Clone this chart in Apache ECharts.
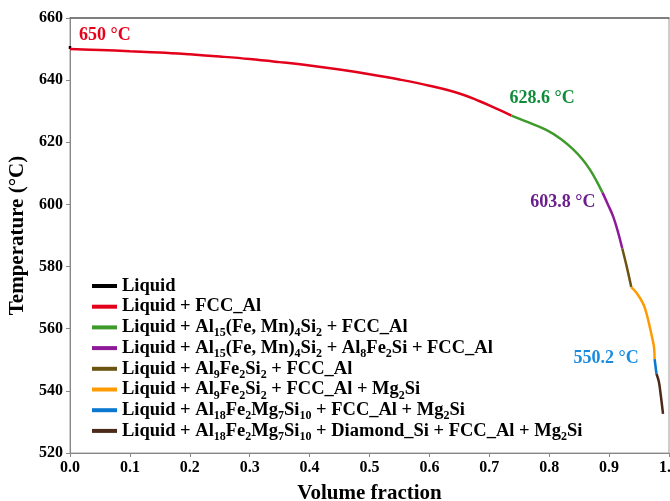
<!DOCTYPE html>
<html><head><meta charset="utf-8">
<script src="https://cdn.jsdelivr.net/npm/echarts@6/dist/echarts.min.js"></script>
<style>html,body{margin:0;padding:0;background:#fff}#c{width:670px;height:501px}</style>
</head><body><div id="c"></div>
<script>
// Series data: [volume fraction, temperature °C]
const liquid = [[0, 651.0], [0, 650.0]];
const fccAl = [[0, 650.0], [0.05, 649.7], [0.1, 649.3], [0.15, 648.9], [0.2, 648.3], [0.25, 647.6], [0.3, 646.8], [0.35, 645.8], [0.4, 644.7], [0.45, 643.4], [0.5, 641.9], [0.55, 640.2], [0.6, 638.2], [0.65, 635.7], [0.684, 633.2], [0.71, 631.0], [0.737, 628.6]];
const al15 = [[0.737, 628.6], [0.76, 626.8], [0.795, 624.0], [0.82, 621.0], [0.84, 617.7], [0.855, 614.6], [0.868, 611.2], [0.88, 607.2], [0.889, 603.8]];
const al15al8 = [[0.889, 603.8], [0.898, 600.0], [0.907, 596.0], [0.915, 591.0], [0.922, 585.8]];
const al9 = [[0.922, 585.8], [0.93, 579.5], [0.937, 573.4]];
const al9mg = [[0.937, 573.4], [0.946, 571.5], [0.957, 568.0], [0.963, 564.5], [0.968, 560.5], [0.972, 557.0], [0.975, 554.0], [0.976, 550.2]];
const al18 = [[0.976, 550.2], [0.979, 545.5]];
const al18dia = [[0.979, 545.5], [0.983, 543.0], [0.986, 539.0], [0.990, 532.6]];

const seriesNames = [
  'Liquid',
  'Liquid + FCC_Al',
  'Liquid + Al{s|15}(Fe, Mn){s|4}Si{s|2} + FCC_Al',
  'Liquid + Al{s|15}(Fe, Mn){s|4}Si{s|2} + Al{s|8}Fe{s|2}Si + FCC_Al',
  'Liquid + Al{s|9}Fe{s|2}Si{s|2} + FCC_Al',
  'Liquid + Al{s|9}Fe{s|2}Si{s|2} + FCC_Al + Mg{s|2}Si',
  'Liquid + Al{s|18}Fe{s|2}Mg{s|7}Si{s|10} + FCC_Al + Mg{s|2}Si',
  'Liquid + Al{s|18}Fe{s|2}Mg{s|7}Si{s|10} + Diamond_Si + FCC_Al + Mg{s|2}Si'
];
const seriesData = [liquid, fccAl, al15, al15al8, al9, al9mg, al18, al18dia];
const colors = ['#000000', '#e3001b', '#3f9a2c', '#8e1a99', '#6b5411', '#ff9a00', '#0a78d0', '#4b2a1a'];

// Annotations: text, anchor point, colour
const annotations = [
  {text: '650 °C', at: [0, 650.0], color: '#e8001a', pos: [9, -14], align: 'left', series: 1},
  {text: '628.6 °C', at: [0.737, 628.6], color: '#0f8c3a', pos: [-2, -17], align: 'left', series: 2},
  {text: '603.8 °C', at: [0.889, 603.8], color: '#6b1f8c', pos: [-7, 10], align: 'right', series: 3},
  {text: '550.2 °C', at: [0.976, 550.2], color: '#1a8ce0', pos: [-16, -1], align: 'right', series: 7}
];

const FONT = '"Liberation Serif", "Times New Roman", serif';

const series = seriesData.map((d, i) => {
  const s = {
    name: seriesNames[i], type: 'line', data: d, symbol: 'none', smooth: 0.4,
    lineStyle: {width: 2.5, color: colors[i]}, itemStyle: {color: colors[i]}, z: 3
  };
  const ann = annotations.filter(a => a.series === i);
  if (ann.length) {
    s.markPoint = {
      symbol: 'circle', symbolSize: 0, animation: false,
      data: ann.map(a => ({
        coord: a.at,
        label: {show: true, formatter: a.text, position: a.pos, align: a.align, verticalAlign: 'middle',
          color: a.color, fontFamily: FONT, fontWeight: 'bold', fontSize: 18}
      }))
    };
  }
  return s;
});

const chart = echarts.init(document.getElementById('c'), null, {renderer: 'canvas'});
chart.setOption({
  animation: false,
  backgroundColor: '#fff',
  grid: {left: 70, right: 1, top: 18, bottom: 48, show: true, borderColor: '#9a9a9a', borderWidth: 1,
    containLabel: false, outerBoundsMode: 'none'},
  xAxis: [{
    type: 'value', min: 0, max: 1, interval: 0.1,
    name: 'Volume fraction', nameLocation: 'middle', nameGap: 30,
    nameTextStyle: {fontFamily: FONT, fontWeight: 'bold', fontSize: 21, color: '#000'},
    axisLine: {show: true, lineStyle: {color: '#888', width: 1}},
    axisTick: {show: true, inside: false, length: 4, lineStyle: {color: '#888'}},
    splitLine: {show: false},
    axisLabel: {margin: 7, fontFamily: FONT, fontWeight: 'bold', fontSize: 16, color: '#000',
      formatter: v => v.toFixed(1)}
  }, {
    type: 'value', min: 0, max: 1, position: 'top',
    axisLine: {show: true, lineStyle: {color: '#666', width: 1.5}},
    axisTick: {show: false}, axisLabel: {show: false}, splitLine: {show: false}
  }],
  yAxis: {
    type: 'value', min: 520, max: 660, interval: 20,
    name: 'Temperature (°C)', nameLocation: 'middle', nameGap: 40,
    nameTextStyle: {fontFamily: FONT, fontWeight: 'bold', fontSize: 21, color: '#000'},
    axisLine: {show: true, lineStyle: {color: '#888', width: 1}},
    axisTick: {show: true, inside: false, length: 4, lineStyle: {color: '#888'}},
    splitLine: {show: false},
    axisLabel: {margin: 7, fontFamily: FONT, fontWeight: 'bold', fontSize: 16, color: '#000'}
  },
  legend: {
    orient: 'vertical', left: 92, top: 274, itemWidth: 25, itemHeight: 4, itemGap: -3.3,
    icon: 'rect', padding: 0,
    data: seriesNames,
    textStyle: {fontFamily: FONT, fontWeight: 'bold', fontSize: 18.5, color: '#000', lineHeight: 24,
      rich: {s: {fontFamily: FONT, fontWeight: 'bold', fontSize: 12, color: '#000', lineHeight: 24, verticalAlign: 'bottom'}}}
  },
  series: series
});
</script></body></html>
